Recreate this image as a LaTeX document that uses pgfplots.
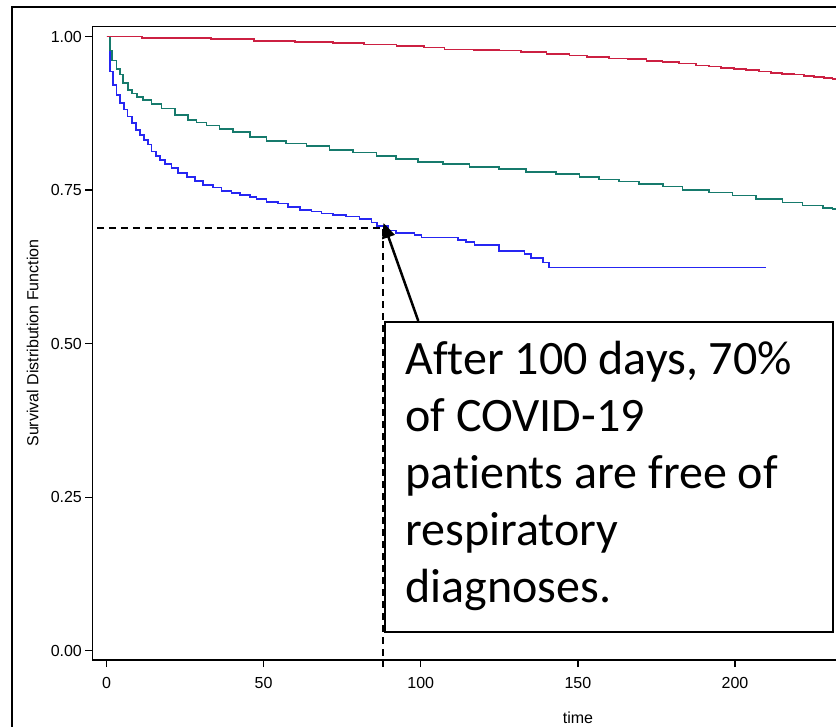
\documentclass[border=0pt]{standalone}
\usepackage{fontspec}
\setmainfont{Liberation Sans}
\newfontfamily\calloutfont[Ligatures=NoCommon]{Carlito}
\usepackage{pgfplots}
\pgfplotsset{compat=1.18}
\usetikzlibrary{arrows.meta}

\definecolor{kmblue}{HTML}{2626F2}
\definecolor{kmteal}{HTML}{167A6C}
\definecolor{kmred}{HTML}{CC2042}

% Kaplan-Meier step estimates: time, survival
\pgfplotstableread{
t S
0 1.000
1.1 0.943
2.1 0.921
3.2 0.905
4.3 0.892
5.5 0.881
6.7 0.870
8.0 0.859
9.4 0.848
10.6 0.840
11.9 0.832
13.1 0.824
14.3 0.813
15.7 0.805
17.0 0.799
18.6 0.793
20.7 0.786
22.8 0.778
25.5 0.771
28.1 0.765
30.7 0.758
33.9 0.754
36.6 0.749
39.8 0.745
42.4 0.742
45.6 0.739
47.7 0.736
50.9 0.731
54.6 0.728
57.8 0.722
61.5 0.718
65.2 0.715
68.4 0.712
72.1 0.710
76.3 0.707
80.5 0.703
84.3 0.697
86.0 0.692
89.5 0.684
92.2 0.680
98.0 0.677
100.2 0.673
111.8 0.669
114.5 0.665
117.1 0.661
125.0 0.651
133.0 0.646
135.1 0.640
138.8 0.632
140.9 0.624
209.9 0.624
}\covid

\pgfplotstableread{
t S
0 1.000
1.1 0.977
1.8 0.961
3.2 0.947
4.3 0.938
5.3 0.924
6.9 0.913
8.0 0.907
9.6 0.902
11.7 0.897
14.3 0.890
17.5 0.883
21.7 0.872
26.0 0.864
28.6 0.860
31.8 0.855
36.0 0.849
40.3 0.844
45.6 0.836
50.9 0.830
57.2 0.826
63.6 0.822
71.0 0.815
78.4 0.811
85.9 0.806
92.2 0.801
99.1 0.796
107.0 0.793
115.5 0.788
125.0 0.784
133.5 0.780
143.0 0.776
150.5 0.771
156.8 0.767
163.2 0.764
169.5 0.760
177.0 0.756
183.3 0.750
191.8 0.746
199.2 0.741
206.6 0.735
215.1 0.730
221.5 0.725
228.0 0.721
231.0 0.719
233.0 0.718
}\groupB

\pgfplotstableread{
t S
0 1.000
11.3 0.998
33.3 0.996
47.0 0.993
60.0 0.991
72.0 0.989
82.0 0.987
92.3 0.985
101.0 0.982
107.6 0.979
116.9 0.978
125.0 0.977
132.0 0.975
140.0 0.972
147.3 0.969
153.0 0.967
160.0 0.964
165.8 0.963
171.8 0.960
176.9 0.958
182.3 0.956
187.7 0.953
191.8 0.951
195.6 0.949
199.8 0.947
203.6 0.945
207.7 0.943
211.5 0.941
215.0 0.939
218.8 0.938
222.0 0.936
225.2 0.934
228.4 0.933
231.0 0.931
233.0 0.930
}\groupC

\begin{document}
\begin{tikzpicture}
\path[use as bounding box] (0,0) rectangle (418pt,363.5pt);
\clip (0,0) rectangle (418pt,363.5pt);

\begin{axis}[
  at={(46.35pt,33.5pt)}, anchor=south west,
  scale only axis, width=485.15pt, height=316.65pt,
  xmin=-4.4, xmax=304.4, ymin=-0.015, ymax=1.016,
  xtick={0,50,100,150,200},
  ytick={0,0.25,0.5,0.75,1},
  yticklabel={\pgfmathprintnumber[fixed,fixed zerofill,precision=2]{\tick}},
  xtick pos=bottom, ytick pos=left,
  tick align=outside, major tick length=3.6pt,
  every tick/.style={black, line width=0.7pt},
  axis line style={black, line width=0.7pt},
  /pgf/number format/assume math mode=true,
  tick label style={font=\fontsize{8pt}{9.6pt}\selectfont},
  yticklabel style={inner sep=0pt, xshift=-1.6pt},
  xticklabel style={inner sep=0pt, yshift=-5pt},
  clip=false,
]
\addplot[const plot, kmblue, line width=0.85pt] table[x=t,y=S]{\covid};
\addplot[const plot, kmteal, line width=0.85pt] table[x=t,y=S]{\groupB};
\addplot[const plot, kmred, line width=0.85pt] table[x=t,y=S]{\groupC};

% reference lines at the marked time point
\draw[black, line width=1pt, dash pattern=on 3.5pt off 2.5pt]
  (axis cs:-3.1,0.689) -- (axis cs:88,0.689) -- (axis cs:88,-0.026);
\end{axis}

\begin{scope}[x=0.5pt, y=-0.5pt, shift={(0pt,363.5pt)}]
  % slide frame
  \draw[black, line width=1pt] (12.3,730) -- (12.3,7) -- (840,7);
  % axis titles
  \node[rotate=90, anchor=base, inner sep=0pt, font=\fontsize{8pt}{9.6pt}\selectfont]
    at (38.3,343) {Survival Distribution Function};
  \node[anchor=base, inner sep=0pt, font=\fontsize{8pt}{9.6pt}\selectfont]
    at (578,724) {time};
  % callout
  \draw[black, line width=1.25pt, -{Triangle[length=7.5pt, width=6.5pt]}]
    (418.3,321) -- (383.5,223);
  \draw[black, line width=1pt, fill=white] (385,321.7) rectangle (832.7,631.7);
  \begin{scope}[every node/.style={anchor=base west, inner sep=0pt,
      font=\calloutfont\fontsize{24pt}{29pt}\selectfont}]
    \node at (405,375) {After 100 days, 70\%};
    \node at (405,432) {of COVID-19};
    \node at (405,489) {patients are free of};
    \node at (405,546) {respiratory};
    \node at (405,603) {diagnoses.};
  \end{scope}
\end{scope}
\end{tikzpicture}
\end{document}
